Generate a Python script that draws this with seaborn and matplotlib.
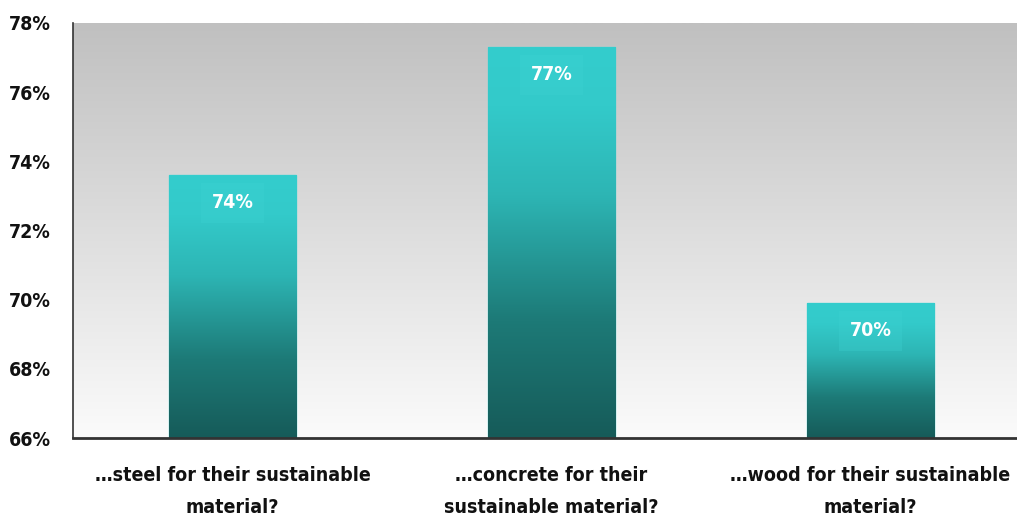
import numpy as np
import pandas as pd
import matplotlib
matplotlib.use("Agg")
import matplotlib.pyplot as plt
from matplotlib import font_manager
from matplotlib.colors import LinearSegmentedColormap
import seaborn as sns

# Survey results: share choosing each material
categories = [
    "…steel for their sustainable\nmaterial?",
    "…concrete for their\nsustainable material?",
    "…wood for their sustainable\nmaterial?",
]
values = [73.6, 77.3, 69.9]
value_labels = ["74%", "77%", "70%"]
y_ticks = [66, 68, 70, 72, 74, 76, 78]
y_tick_labels = ["66%", "68%", "70%", "72%", "74%", "76%", "78%"]

df = pd.DataFrame({"question": categories, "share": values})

sns.set_theme(style="white")


def pick_font():
    # Prefer a narrow sans face for the condensed look
    for fam, stretch in [("DejaVu Sans", "condensed"), ("Liberation Sans Narrow", "normal")]:
        try:
            path = font_manager.findfont(
                font_manager.FontProperties(family=fam, stretch=stretch, weight="bold"),
                fallback_to_default=False)
            name = path.lower()
            if "condensed" in name or "narrow" in name:
                return fam, stretch
        except Exception:
            pass
    return "DejaVu Sans", "normal"


font_family, font_stretch = pick_font()
plt.rcParams["font.family"] = [font_family]
plt.rcParams["font.stretch"] = font_stretch

fig = plt.figure(figsize=(10.17, 5.19), dpi=100)
ax = fig.add_axes([73 / 1017, 81 / 519, 957 / 1017, 415 / 519])

sns.barplot(data=df, x="question", y="share", ax=ax, width=0.4,
            color="#33cccc", edgecolor="#4fd8d8", linewidth=1.0, zorder=2)

ax.set_ylim(66, 78)
ax.set_xlim(-0.5, 2.5)

# Background gradient: grey at the top fading to near white
bg_cmap = LinearSegmentedColormap.from_list("bg", ["#fbfbfb", "#c0c0c0"])
grad = np.linspace(0, 1, 256).reshape(-1, 1)
ax.imshow(grad, cmap=bg_cmap, origin="lower", aspect="auto",
          extent=(-0.5, 2.5, 66, 78), zorder=0)

# Vertical gradient fill inside each bar
bar_cmap = LinearSegmentedColormap.from_list(
    "bar", [(0.0, "#165b59"), (0.3, "#1d7a77"), (0.62, "#2db5b4"),
            (0.85, "#33caca"), (1.0, "#34cdcd")])
for patch in ax.patches:
    x0, w = patch.get_x(), patch.get_width()
    y0, h = patch.get_y(), patch.get_height()
    img = ax.imshow(grad, cmap=bar_cmap, origin="lower", aspect="auto",
                    extent=(x0, x0 + w, 66, y0 + h), zorder=2.5)
    img.set_clip_path(patch)

# Value labels near the top of each bar
for i, (v, lab) in enumerate(zip(values, value_labels)):
    ax.annotate(lab, xy=(i, v), xytext=(0, -20), textcoords="offset points",
                ha="center", va="center", color="white", fontsize=14,
                fontweight="bold", zorder=4,
                bbox=dict(boxstyle="square,pad=0.55", facecolor="#3fd3d3",
                          edgecolor="none", alpha=0.3))

ax.set_yticks(y_ticks)
ax.set_yticklabels(y_tick_labels, fontsize=14, fontweight="bold", color="#111111")
ax.set_xticks(range(len(categories)))
ax.set_xticklabels(categories, fontsize=14, fontweight="bold", color="#111111",
                   linespacing=1.85)
ax.tick_params(axis="y", direction="in", length=6, width=1.2, color="#444444", pad=16)
ax.tick_params(axis="x", length=0, pad=20)
ax.set_xlabel("")
ax.set_ylabel("")

for side in ["top", "right"]:
    ax.spines[side].set_visible(False)
ax.spines["left"].set_color("#333333")
ax.spines["left"].set_linewidth(1.2)
ax.spines["bottom"].set_color("#333333")
ax.spines["bottom"].set_linewidth(2)
ax.spines["left"].set_zorder(5)
ax.spines["bottom"].set_zorder(5)

fig.savefig("out.png", dpi=100)
